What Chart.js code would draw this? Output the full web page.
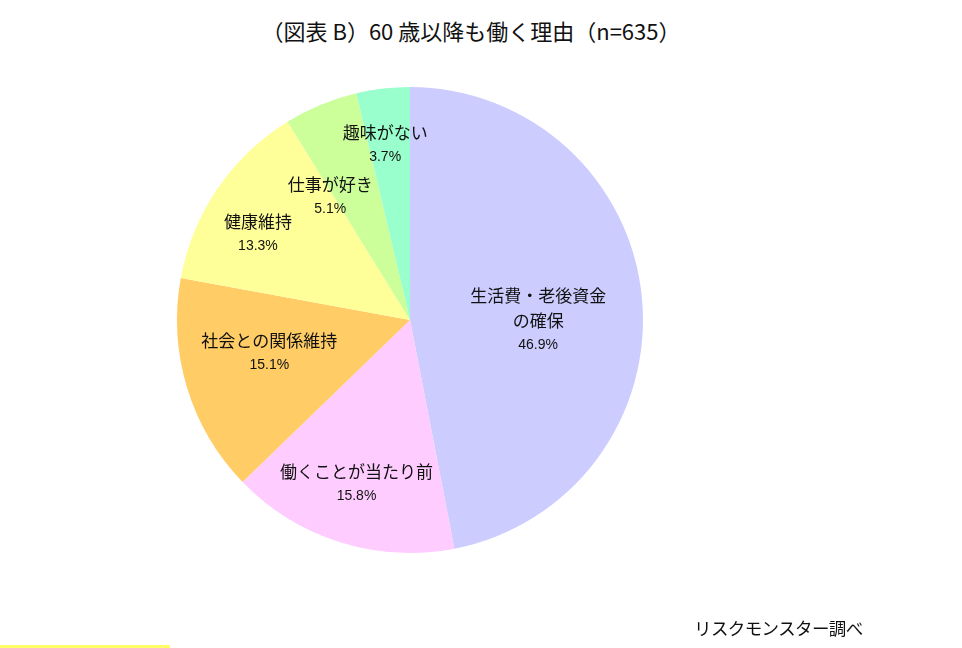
<!DOCTYPE html>
<html lang="ja">
<head>
  <meta charset="utf-8">
  <title>60歳以降も働く理由</title>
  <script src="https://cdn.jsdelivr.net/npm/chart.js@4.4.1/dist/chart.umd.min.js"></script>
  <style>
    html, body { margin: 0; padding: 0; background: #fff; }
    #wrap { position: relative; width: 962px; height: 648px; overflow: hidden; }
    #title { position: absolute; top: 14px; left: 0; width: 942px; text-align: center;
      font-family: "Noto Sans CJK JP", sans-serif; font-size: 22px; color: #111; }
    #source { position: absolute; top: 615px; left: 694px;
      font-family: "Noto Sans CJK JP", sans-serif; font-size: 17.5px; color: #111; letter-spacing: -0.6px; }
    #bar { position: absolute; top: 645px; left: 0; width: 170px; height: 3px; background: #ffff66; }
    canvas { position: absolute; top: 0; left: 0; }
  </style>
</head>
<body>
  <div id="wrap">
    <div id="title">（図表 B）60 歳以降も働く理由（n=635）</div>
    <canvas id="myChart" width="962" height="648"></canvas>
    <div id="source">リスクモンスター調べ</div>
    <div id="bar"></div>
  </div>
  <script>
    // data
    const reasons = ['生活費・老後資金\nの確保', '働くことが当たり前', '社会との関係維持', '健康維持', '仕事が好き', '趣味がない'];
    const shares = [46.9, 15.8, 15.1, 13.3, 5.1, 3.7];
    const colors = ['#ccccff', '#ffccff', '#ffcc66', '#ffff99', '#ccff99', '#99ffcc'];

    // where each label sits inside its slice (fraction of radius, angle tweak in degrees)
    const labelRadius = [0.55, 0.74, 0.62, 0.75, 0.63, 0.76];
    const labelTurn = [5.6, 0.6, 3.8, -4.8, -10.4, -1.4];

    const nameFont = '17px "Noto Sans CJK JP", sans-serif';
    const pctFont = '14px "Liberation Sans", Arial, sans-serif';

    const sliceLabels = {
      id: 'sliceLabels',
      afterDatasetsDraw(chart) {
        const ctx = chart.ctx;
        const meta = chart.getDatasetMeta(0);
        ctx.save();
        ctx.fillStyle = '#111';
        ctx.textAlign = 'center';
        ctx.textBaseline = 'middle';
        meta.data.forEach(function (arc, i) {
          const p = arc.getProps(['x', 'y', 'startAngle', 'endAngle', 'outerRadius'], true);
          const a = (p.startAngle + p.endAngle) / 2 + labelTurn[i] * Math.PI / 180;
          const r = p.outerRadius * labelRadius[i];
          const cx = p.x + Math.cos(a) * r;
          const cy = p.y + Math.sin(a) * r;
          const lines = reasons[i].split('\n');
          lines.push(shares[i].toFixed(1) + '%');
          const lh = 25;
          const top = cy - (lines.length - 1) * lh / 2;
          lines.forEach(function (t, k) {
            ctx.font = (k === lines.length - 1) ? pctFont : nameFont;
            ctx.fillText(t, cx, top + k * lh);
          });
        });
        ctx.restore();
      }
    };

    new Chart(document.getElementById('myChart'), {
      type: 'pie',
      data: {
        labels: reasons,
        datasets: [{
          data: shares,
          backgroundColor: colors,
          borderWidth: 0
        }]
      },
      options: {
        responsive: false,
        animation: false,
        layout: { padding: { top: 87, bottom: 95, left: 177, right: 319 } },
        plugins: {
          legend: { display: false },
          tooltip: { enabled: false }
        }
      },
      plugins: [sliceLabels]
    });
  </script>
</body>
</html>
